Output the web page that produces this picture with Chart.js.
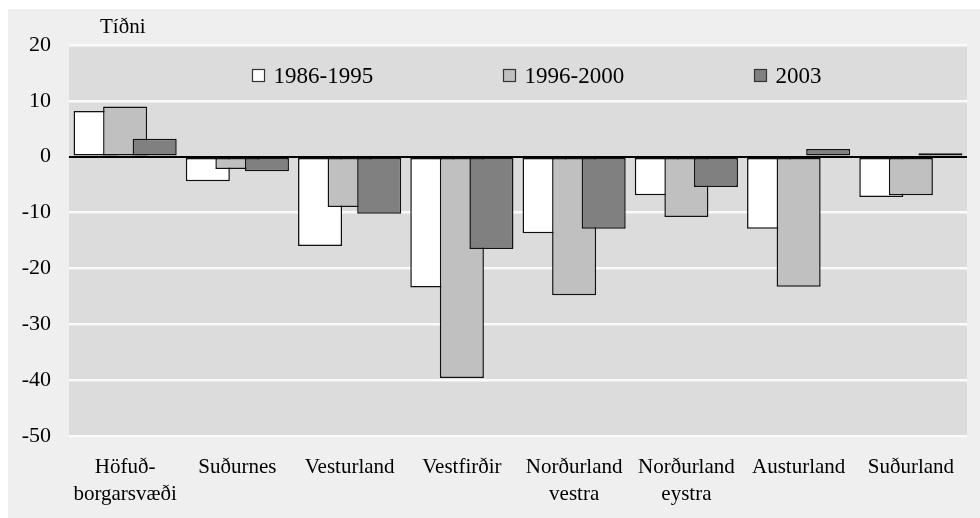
<!DOCTYPE html>
<html>
<head>
<meta charset="utf-8">
<script src="https://cdn.jsdelivr.net/npm/chart.js@4.4.0/dist/chart.umd.min.js"></script>
<style>
  html, body { margin: 0; padding: 0; background: #ffffff; }
  #wrap { width: 980px; height: 518px; }
  .probe { position: absolute; left: -9999px; font-family: 'Liberation Serif'; }
</style>
</head>
<body>
<span class="probe">Tíðni 1986</span>
<div id="wrap"><canvas id="chart" width="980" height="518"></canvas></div>
<script>
// --- DADOS ---
const regions = [['Höfuð-', 'borgarsvæði'], 'Suðurnes', 'Vesturland', 'Vestfirðir', ['Norðurland', 'vestra'], ['Norðurland', 'eystra'], 'Austurland', 'Suðurland'];
const seriesNames = ['1986-1995', '1996-2000', '2003'];
const vals1986 = [8.2, -4.4, -16.0, -23.4, -13.7, -6.9, -12.9, -7.2];
const vals1996 = [9.0, -2.2, -9.0, -39.6, -24.8, -10.8, -23.3, -6.9];
const vals2003 = [3.2, -2.6, -10.2, -16.5, -12.9, -5.4, 1.4, 0.6];
const yTicks = [20, 10, 0, -10, -20, -30, -40, -50];
const yTitle = 'Tíðni';

const fills = ['#ffffff', '#c0c0c0', '#808080'];
const FONT = '"Liberation Serif", "Times New Roman", Times, serif';

// fundo externo + área do gráfico
const backgroundPlugin = {
    id: 'bg',
    beforeDraw(chart) {
        const { ctx, chartArea: a } = chart;
        ctx.save();
        ctx.fillStyle = '#efefef';
        ctx.fillRect(8, 9, chart.width - 8, chart.height - 9);
        ctx.fillStyle = '#dcdcdc';
        ctx.fillRect(a.left, a.top, a.right - a.left, a.bottom - a.top);
        ctx.restore();
    }
};

// desenha as barras na ordem dos datasets (a seguinte fica por cima) e a linha do zero
const drawOrderPlugin = {
    id: 'drawOrder',
    beforeDatasetsDraw(chart) {
        chart.data.datasets.forEach((ds, i) => {
            const meta = chart.getDatasetMeta(i);
            if (meta.visible) meta.controller.draw();
        });
        const { ctx, chartArea: a } = chart;
        const y0 = Math.round(chart.scales.y.getPixelForValue(0));
        ctx.save();
        ctx.strokeStyle = '#000';
        ctx.lineWidth = 2;
        ctx.beginPath();
        ctx.moveTo(a.left, y0);
        ctx.lineTo(a.right, y0);
        ctx.stroke();
        ctx.restore();
        return false;
    }
};

// legenda dentro da área + título do eixo
const legendPlugin = {
    id: 'innerLegend',
    afterDraw(chart) {
        const { ctx, chartArea: a } = chart;
        const w = a.right - a.left;
        const offsets = [0.204, 0.483, 0.763];
        ctx.save();
        ctx.font = '21px ' + FONT;
        ctx.fillStyle = '#000';
        ctx.textBaseline = 'alphabetic';
        ctx.textAlign = 'left';
        ctx.fillText(yTitle, 100, 33);

        ctx.textBaseline = 'middle';
        ctx.font = '23px ' + FONT;
        seriesNames.forEach((name, i) => {
            const x = Math.round(a.left + w * offsets[i]) + 0.5;
            const y = 69.5;
            ctx.fillStyle = fills[i];
            ctx.fillRect(x, y, 12, 12);
            ctx.strokeStyle = '#333';
            ctx.lineWidth = 1.2;
            ctx.strokeRect(x, y, 12, 12);
            ctx.fillStyle = '#000';
            ctx.fillText(name, x + 21, y + 7);
        });
        ctx.restore();
    }
};

const seriesData = [vals1986, vals1996, vals2003];

function draw() {
    new Chart(document.getElementById('chart'), {
        type: 'bar',
        data: {
            labels: regions,
            datasets: seriesNames.map((name, i) => ({
                label: name,
                data: seriesData[i],
                backgroundColor: fills[i],
                borderColor: '#111',
                borderWidth: 1.5,
                borderSkipped: false,
                categoryPercentage: 0.79,
                barPercentage: 1.49
            }))
        },
        options: {
            responsive: false,
            devicePixelRatio: 1,
            animation: false,
            layout: { padding: { top: 45, right: 13, bottom: 0, left: 0 } },
            plugins: {
                legend: { display: false },
                tooltip: { enabled: false }
            },
            scales: {
                x: {
                    grid: { display: false, drawTicks: false },
                    border: { display: false },
                    ticks: {
                        color: '#000',
                        padding: 18,
                        maxRotation: 0,
                        autoSkip: false,
                        font: { family: FONT, size: 21, lineHeight: 1.3 }
                    },
                    afterFit(scale) { scale.height = 82; }
                },
                y: {
                    min: -50,
                    max: 20,
                    afterBuildTicks(scale) { scale.ticks = yTicks.map(v => ({ value: v })); },
                    grid: {
                        drawTicks: false,
                        color: c => (c.tick && c.tick.value === 0) ? 'rgba(0,0,0,0)' : '#fafafa',
                        lineWidth: 2.5
                    },
                    border: { display: false },
                    ticks: {
                        color: '#000',
                        padding: 18,
                        font: { family: FONT, size: 22 }
                    },
                    afterFit(scale) { scale.width = 69; }
                }
            }
        },
        plugins: [backgroundPlugin, drawOrderPlugin, legendPlugin]
    });
}

if (document.fonts && document.fonts.load) {
    document.fonts.load('21px "Liberation Serif"').then(draw, draw);
} else {
    draw();
}
</script>
</body>
</html>
